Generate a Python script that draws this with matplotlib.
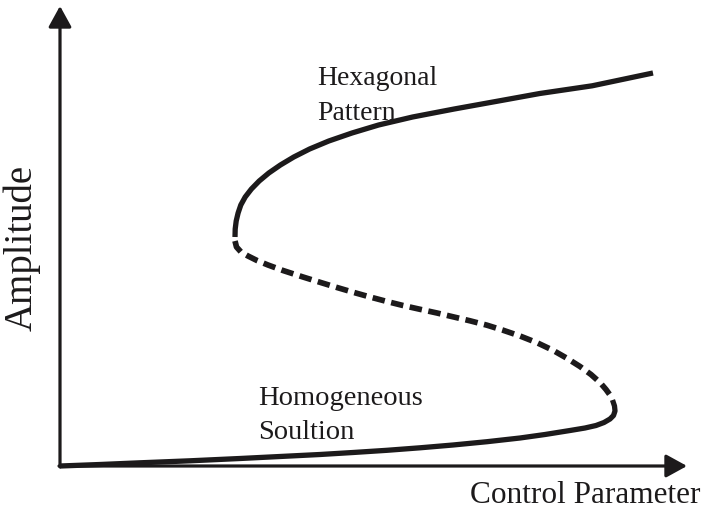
# Schematic bifurcation diagram: hexagonal pattern vs homogeneous solution
import matplotlib
matplotlib.use('Agg')
import matplotlib.pyplot as plt

# stable hexagonal branch (from upper turning point to right end)
hex_x = [1.750, 1.752, 1.762, 1.781, 1.808, 1.852, 1.914, 1.992, 2.088, 2.204, 2.338,
         2.496, 2.688, 2.920, 3.186, 3.526, 3.942, 4.374, 4.798, 5.322, 5.930]
hex_y = [2.29, 2.37, 2.45, 2.53, 2.61, 2.69, 2.77, 2.85, 2.93, 3.01, 3.09,
         3.17, 3.25, 3.33, 3.41, 3.49, 3.57, 3.648, 3.725, 3.802, 3.93]

# unstable branch (dashed)
unstable_x = [1.750, 1.765, 1.810, 1.880, 1.970, 2.080, 2.230, 2.430, 2.600, 2.770,
              2.940, 3.100, 3.270, 3.430, 3.600, 3.770, 3.930, 4.100, 4.270, 4.430,
              4.600, 4.770, 4.930, 5.070, 5.200, 5.310, 5.400, 5.460, 5.500, 5.525]
unstable_y = [2.25, 2.19, 2.14, 2.10, 2.055, 2.01, 1.955, 1.89, 1.837, 1.785,
              1.735, 1.69, 1.645, 1.605, 1.567, 1.53, 1.492, 1.452, 1.408, 1.358,
              1.30, 1.233, 1.157, 1.077, 0.995, 0.915, 0.835, 0.765, 0.71, 0.67]

# stable homogeneous branch (from lower turning point back to the origin)
homo_x = [5.525, 5.545, 5.55, 5.535, 5.50, 5.44, 5.36, 5.25, 5.10, 4.85, 4.60, 4.27,
          3.93, 3.60, 3.27, 2.93, 2.60, 2.20, 1.80, 1.30, 0.80, 0.40, 0.0]
homo_y = [0.66, 0.60, 0.55, 0.505, 0.47, 0.435, 0.405, 0.38, 0.355, 0.315, 0.28, 0.243,
          0.21, 0.182, 0.157, 0.135, 0.115, 0.095, 0.075, 0.052, 0.032, 0.015, 0.0]

ink = '#1c1a1b'
plt.rcParams['font.family'] = 'Liberation Serif'

fig = plt.figure(figsize=(7.05, 5.15), dpi=100)
ax = fig.add_axes([0, 0, 1, 1])
ax.set_xlim(-0.6, 6.45)
ax.set_ylim(-0.49, 4.66)
ax.axis('off')

# axes with arrow heads
arrow = dict(arrowstyle='-|>,head_length=0.4,head_width=0.22', lw=2.3, color=ink,
             mutation_scale=32, shrinkA=0, shrinkB=0)
ax.annotate('', xy=(0, 4.60), xytext=(0, -0.01), arrowprops=arrow)
ax.annotate('', xy=(6.27, 0), xytext=(-0.01, 0), arrowprops=arrow)

ax.plot(hex_x, hex_y, color=ink, lw=3.8, solid_capstyle='butt', solid_joinstyle='round')
ax.plot(homo_x, homo_y, color=ink, lw=3.8, solid_capstyle='butt', solid_joinstyle='round')
ax.plot(unstable_x, unstable_y, color=ink, lw=4.1, dashes=(2.2, 1.15), dash_capstyle='butt')

ax.text(2.57, 3.81, 'Hexagonal', fontsize=20, color=ink, va='baseline')
ax.text(2.57, 3.46, 'Pattern', fontsize=20, color=ink, va='baseline')
ax.text(1.98, 0.61, 'Homogeneous', fontsize=20.5, color=ink, va='baseline')
ax.text(1.98, 0.27, 'Soultion', fontsize=20.5, color=ink, va='baseline')

ax.text(4.10, -0.37, 'Control Parameter', fontsize=22.5, color=ink, va='baseline')
ax.text(-0.28, 2.18, 'Amplitude', fontsize=28, color=ink, rotation=90,
        rotation_mode='anchor', ha='center', va='baseline')

fig.savefig('out.png', dpi=100)
